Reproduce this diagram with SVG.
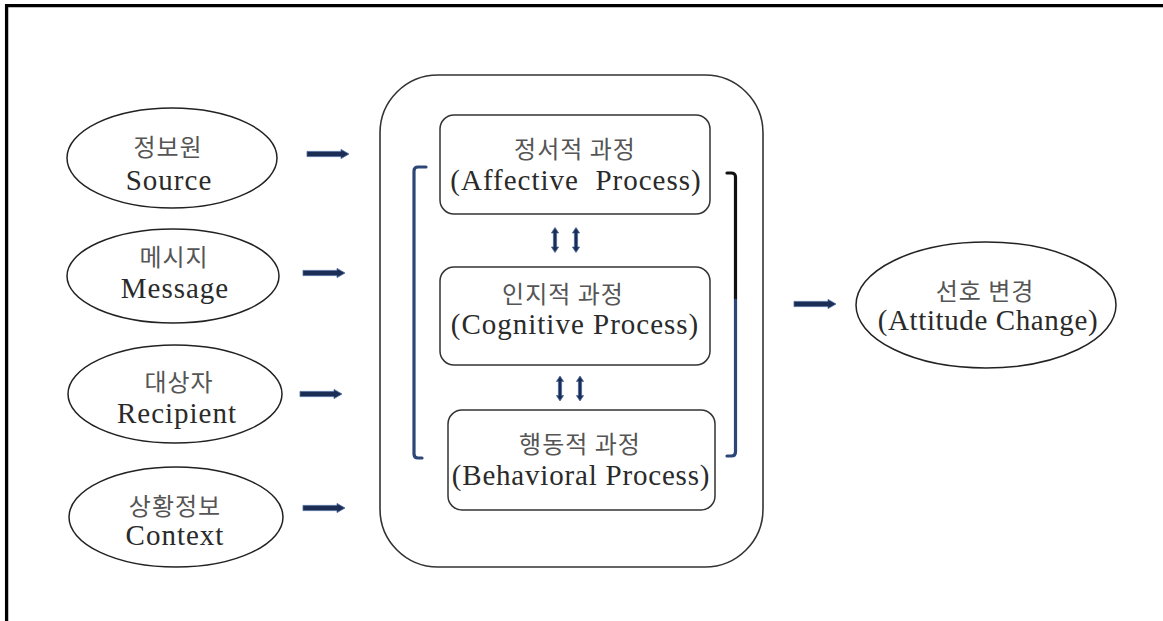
<svg xmlns="http://www.w3.org/2000/svg" width="1163" height="621" viewBox="0 0 1163 621">
  <style>
    .frame { fill: none; stroke: #000; stroke-width: 3.3; }
    .oval { fill: #fff; stroke: #222; stroke-width: 1.5; }
    .box { fill: #fff; stroke: #333; stroke-width: 1.5; }
    .outer { fill: #fff; stroke: #333; stroke-width: 1.6; }
    .ko { font-family: "Noto Sans CJK KR", "Noto Sans", sans-serif; font-size: 24px; fill: #555; text-anchor: middle; letter-spacing: 1px; }
    .en { font-family: "Liberation Serif", "Noto Sans CJK KR", serif; font-size: 29px; fill: #2a2a2a; text-anchor: middle; letter-spacing: 1px; }
    .arrow { fill: #1b2d55; stroke: #4d6a9c; stroke-width: 0.8; }
    .bracket { fill: none; stroke: #2c4677; stroke-width: 3.2; stroke-linecap: round; stroke-linejoin: round; }
    .bracket-dark { fill: none; stroke: #111; stroke-width: 3.2; stroke-linecap: round; stroke-linejoin: round; }
  </style>
  <defs>
    <!-- thick horizontal arrow, origin at the tail centre -->
    <path id="harrow" d="M0,-2.6 H34 V-4.6 L42,0 L34,4.6 V2.6 H0 Z"/>
    <!-- thin two-headed vertical arrow, origin at its centre -->
    <path id="varrow" d="M-1.6,-7 H-3.6 L0,-12.5 L3.6,-7 H1.6 V7 H3.6 L0,12.5 L-3.6,7 H-1.6 Z"/>
  </defs>

  <rect x="0" y="0" width="1163" height="621" fill="#fff"/>
  <!-- page frame: top and left rules -->
  <path class="frame" d="M6.6,621 V5.7 H1163"/>

  <!-- factor nodes -->
  <g id="node-source">
    <ellipse class="oval" cx="172" cy="158" rx="105" ry="50"/>
    <text class="ko" x="168" y="156">정보원</text>
    <text class="en" x="169" y="190">Source</text>
  </g>
  <g id="node-message">
    <ellipse class="oval" cx="173" cy="276" rx="106" ry="47"/>
    <text class="ko" x="174" y="266">메시지</text>
    <text class="en" x="175" y="298">Message</text>
  </g>
  <g id="node-recipient">
    <ellipse class="oval" cx="175" cy="394" rx="107" ry="49"/>
    <text class="ko" x="179" y="391">대상자</text>
    <text class="en" x="177" y="423">Recipient</text>
  </g>
  <g id="node-context">
    <ellipse class="oval" cx="176" cy="517" rx="107" ry="50"/>
    <text class="ko" x="175" y="515">상황정보</text>
    <text class="en" x="175" y="545">Context</text>
  </g>

  <!-- processing block -->
  <g id="node-process">
    <rect class="outer" x="380" y="75" width="383" height="492" rx="58" ry="58"/>
  </g>
  <g id="node-affective">
    <rect class="box" x="440" y="115" width="270" height="99" rx="14" ry="14"/>
    <text class="ko" x="575" y="158">정서적 과정</text>
    <text class="en" x="576" y="190" xml:space="preserve">(Affective  Process)</text>
  </g>
  <g id="node-cognitive">
    <rect class="box" x="440" y="267" width="270" height="98" rx="14" ry="14"/>
    <text class="ko" x="563" y="303">인지적 과정</text>
    <text class="en" x="575" y="334">(Cognitive Process)</text>
  </g>
  <g id="node-behavioral">
    <rect class="box" x="448" y="410" width="267" height="100" rx="14" ry="14"/>
    <text class="ko" x="580" y="453">행동적 과정</text>
    <text class="en" x="581" y="485" style="letter-spacing:0.8px">(Behavioral Process)</text>
  </g>

  <!-- outcome node -->
  <g id="node-attitude">
    <ellipse class="oval" cx="986" cy="305" rx="130" ry="63"/>
    <text class="ko" x="985" y="300">선호 변경</text>
    <text class="en" x="988" y="330" style="letter-spacing:0.6px">(Attitude Change)</text>
  </g>

  <!-- connectors -->
  <g id="connectors">
    <use href="#harrow" class="arrow" x="307" y="154"/>
    <use href="#harrow" class="arrow" x="303" y="273"/>
    <use href="#harrow" class="arrow" x="300" y="394"/>
    <use href="#harrow" class="arrow" x="303" y="508"/>
    <use href="#harrow" class="arrow" x="794" y="304"/>

    <use href="#varrow" class="arrow" x="555" y="240"/>
    <use href="#varrow" class="arrow" x="576" y="240"/>
    <use href="#varrow" class="arrow" x="560" y="388.5"/>
    <use href="#varrow" class="arrow" x="580" y="388.5"/>

    <!-- left bracket -->
    <path class="bracket" d="M426,167 H418 Q414,167 414,171 V454 Q414,458 418,458 H422"/>
    <!-- right bracket: dark upper part, blue lower part -->
    <path class="bracket-dark" d="M727,173 H731 Q735.5,173 735.5,177 V300"/>
    <path class="bracket" d="M735.5,300 V452 Q735.5,456 731.5,456 H727"/>
  </g>
</svg>
